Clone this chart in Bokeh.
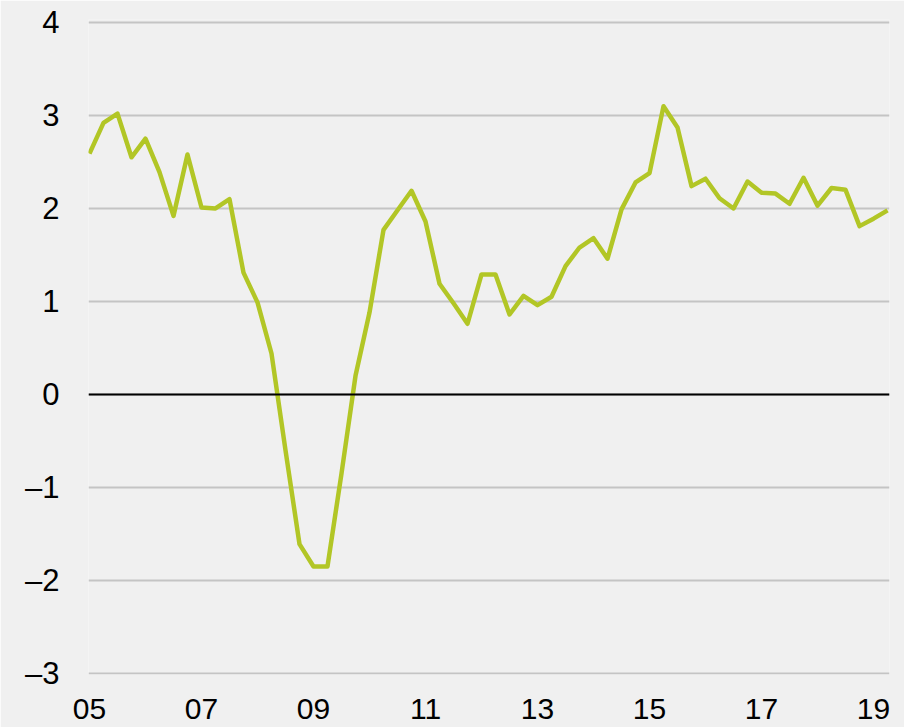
from bokeh.plotting import figure
from bokeh.models import FixedTicker, Range1d, Span
from bokeh.embed import file_html
from bokeh.resources import INLINE

# Quarterly values, 2005 Q1 .. 2019 Q2
values = [2.59, 2.92, 3.02, 2.55, 2.75, 2.39, 1.92, 2.58, 2.01, 2.00,
          2.10, 1.31, 0.99, 0.44, -0.60, -1.61, -1.85, -1.85, -0.85, 0.20,
          0.88, 1.77, 1.98, 2.19, 1.86, 1.19, 0.98, 0.76, 1.29, 1.29,
          0.86, 1.06, 0.96, 1.05, 1.38, 1.58, 1.68, 1.46, 1.99, 2.28,
          2.38, 3.10, 2.87, 2.24, 2.32, 2.11, 2.00, 2.29, 2.17, 2.16,
          2.05, 2.33, 2.03, 2.22, 2.20, 1.81, 1.89, 1.98]
quarter_index = list(range(len(values)))

x_tick_positions = [0, 8, 16, 24, 32, 40, 48, 56]
x_tick_labels = ["05", "07", "09", "11", "13", "15", "17", "19"]
y_ticks = [-3, -2, -1, 0, 1, 2, 3, 4]
y_tick_labels = ["–3", "–2", "–1", "0", "1", "2", "3", "4"]

BG = "#f0f0f0"
LINE = "#b2c626"
GRID = "#c4c4c4"
FONT = "Liberation Sans"

p = figure(width=904, height=727, output_backend="svg", toolbar_location=None,
           x_range=Range1d(-0.07, 57.14), y_range=Range1d(-3.012, 4.032),
           min_border_left=88, min_border_right=15, min_border_top=19,
           min_border_bottom=53)
p.background_fill_color = BG
p.border_fill_color = BG
p.outline_line_color = None

p.xgrid.grid_line_color = None
p.ygrid.ticker = FixedTicker(ticks=y_ticks)
p.ygrid.grid_line_color = GRID
p.ygrid.grid_line_width = 2

for ax in (p.xaxis[0], p.yaxis[0]):
    ax.axis_line_color = None
    ax.major_tick_line_color = None
    ax.minor_tick_line_color = None
    ax.major_label_text_font = FONT
    ax.major_label_text_font_size = "31px"
    ax.major_label_text_color = "#000000"

p.xaxis.ticker = FixedTicker(ticks=x_tick_positions)
p.xaxis.major_label_overrides = dict(zip(x_tick_positions, x_tick_labels))
p.xaxis.major_label_text_font_size = "30px"
p.xaxis.major_label_standoff = 18

p.yaxis.ticker = FixedTicker(ticks=y_ticks)
p.yaxis.major_label_overrides = dict(zip(y_ticks, y_tick_labels))
p.yaxis.major_label_standoff = 23

p.add_layout(Span(location=0, dimension="width", line_color="#000000", line_width=2))

p.line(quarter_index, values, line_color=LINE, line_width=4.5, line_join="round")

html = file_html(p, INLINE)
html = html.replace("<body>", '<body style="background:#f0f0f0">', 1)
open("out.html", "w").write(html)
